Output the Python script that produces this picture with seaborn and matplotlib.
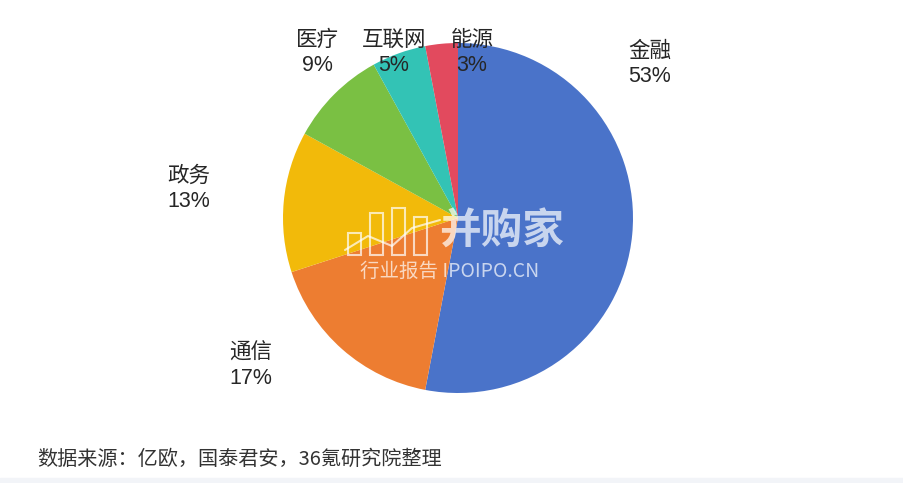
import matplotlib
matplotlib.use('Agg')
import matplotlib.pyplot as plt
import seaborn as sns
import numpy as np

# data
sectors = ['金融', '通信', '政务', '医疗', '互联网', '能源']
shares = [53, 17, 13, 9, 5, 3]
colors = ['#4A73C9', '#ED7D31', '#F2BA0A', '#7AC043', '#33C3B5', '#E24A5E']
source = '数据来源：亿欧，国泰君安，36氪研究院整理'

sns.set_theme(style='white')
plt.rcParams['font.family'] = ['Liberation Sans', 'Noto Sans CJK SC', 'DejaVu Sans']

W, H = 904, 483
fig = plt.figure(figsize=(W / 100, H / 100), dpi=100)
ax = fig.add_axes([0, 0, 1, 1])

# light strip at the bottom
fig.patches.append(plt.Rectangle((0, 0), 1, 5 / H, transform=fig.transFigure,
                                 color='#F2F4F8', zorder=0))

cx, cy, r = 458, H - 218, 175
ax.pie(shares, colors=colors, startangle=90, counterclock=False,
       center=(cx, cy), radius=r, frame=True,
       wedgeprops=dict(linewidth=0))
ax.set_xlim(0, W)
ax.set_ylim(0, H)
ax.set_aspect('equal')
ax.axis('off')

# label positions (pixel, top-left origin)
label_pos = [(650, 64), (251, 366), (189, 189), (317, 53), (394, 53), (472, 53)]
for name, val, (px, py) in zip(sectors, shares, label_pos):
    ax.text(px, H - py, f'{name}\n{val}%', ha='center', va='center',
            fontsize=15.5, color='#262626', linespacing=1.25)

# watermark
wm = dict(color='white', alpha=0.7)
ax.text(502, H - 232, '并购家', ha='center', va='center', fontsize=30,
        fontweight='bold', family=['Noto Sans CJK SC'], **wm)
ax.text(450, H - 271, '行业报告 IPOIPO.CN', ha='center', va='center',
        fontsize=14, family=['Noto Sans CJK SC'], **wm)
for i, hgt in enumerate([22, 42, 47, 38]):
    ax.add_patch(plt.Rectangle((348 + i * 22, H - 255), 13, hgt, fill=False,
                               edgecolor='white', alpha=0.7, linewidth=1.5))
ax.plot([345, 368, 392, 412, 440], [H - 250, H - 236, H - 246, H - 228, H - 220],
        linewidth=1.5, **wm)

fig.text(37 / W, 1 - 459 / H, source, ha='left', va='center',
         fontsize=14.5, color='#333333', family=['Noto Sans CJK SC', 'DejaVu Sans'])

fig.savefig('out.png', dpi=100)
